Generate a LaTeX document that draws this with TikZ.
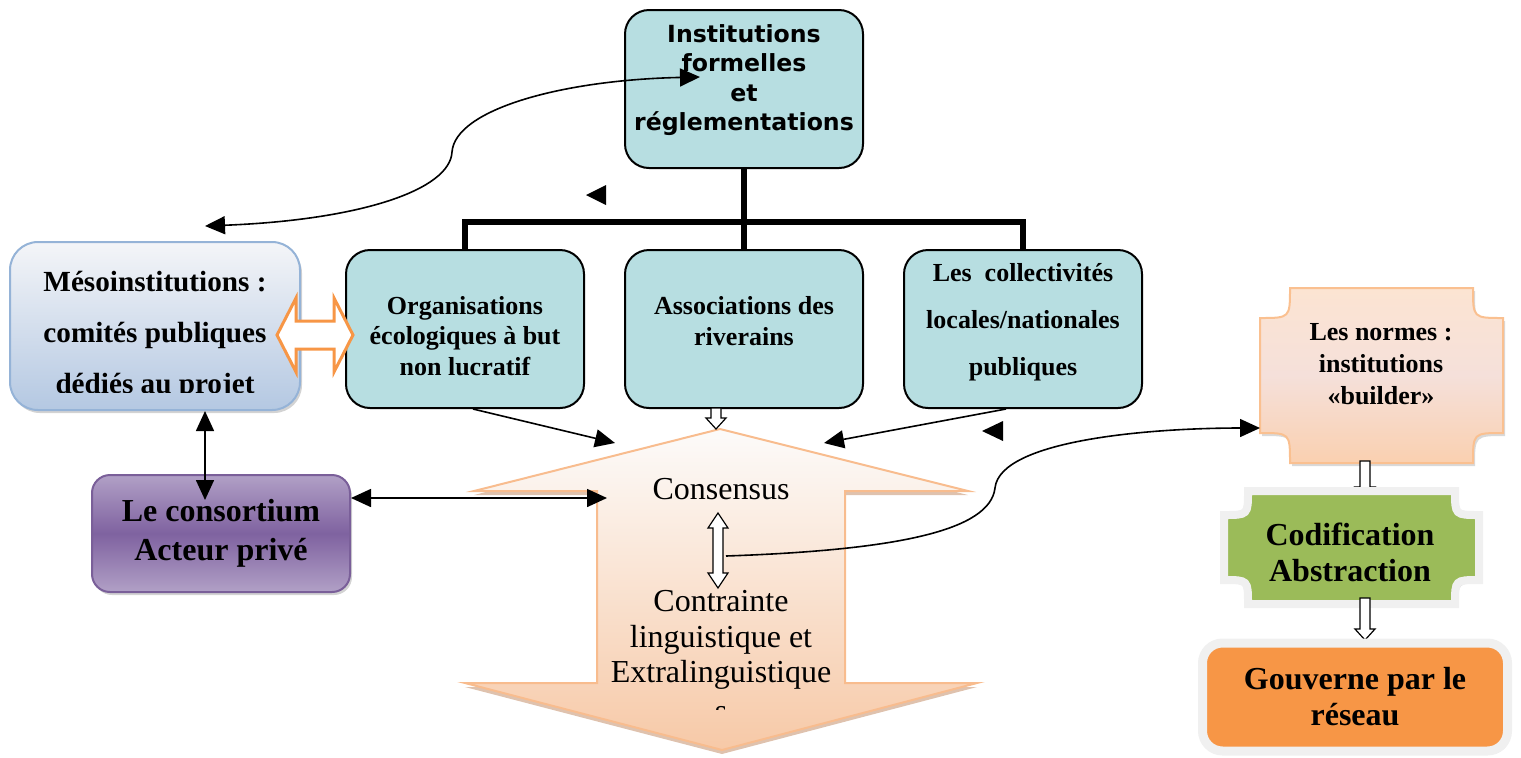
\documentclass[tikz,border=0pt]{standalone}
\usepackage{fontspec}
\setmainfont{Liberation Serif}
\newfontfamily\verdana{DejaVu Sans}
\usetikzlibrary{arrows.meta,shadows}

\definecolor{tealfill}{HTML}{B7DEE1}
\definecolor{mesotop}{HTML}{F4F5F8}
\definecolor{mesobot}{HTML}{B4C8E2}
\definecolor{mesoline}{HTML}{95B3D7}
\definecolor{conslight}{HTML}{B1A0C6}
\definecolor{consdark}{HTML}{7F62A0}
\definecolor{consline}{HTML}{7A5F99}
\definecolor{normestop}{HTML}{FCE4D2}
\definecolor{normesmid}{HTML}{F5E0DA}
\definecolor{normesbot}{HTML}{FAD0B0}
\definecolor{normesline}{HTML}{FAC090}
\definecolor{codiffill}{HTML}{9BBB59}
\definecolor{rim}{HTML}{F0F0F0}
\definecolor{gouvfill}{HTML}{F79646}
\definecolor{arrowtop}{HTML}{FCFBFA}
\definecolor{arrowbot}{HTML}{F7C9A7}
\definecolor{arrowline}{HTML}{F8BC8E}
\definecolor{arrowshade}{HTML}{C99A78}
\definecolor{orangeline}{HTML}{F79646}

\tikzset{
  tealbox/.style={draw=black, line width=1pt, fill=tealfill, rounded corners=12pt,
    minimum width=119pt, minimum height=79pt, inner sep=0pt},
  boxtext/.style={align=center, font=\bfseries\fontsize{13}{15.25}\selectfont},
  insttext/.style={align=center, font=\verdana\bfseries\fontsize{11.8}{14.75}\selectfont},
  mesobox/.style={draw=mesoline, line width=1pt, rounded corners=14pt,
    top color=mesotop, bottom color=mesobot, minimum width=145pt, minimum height=84pt,
    drop shadow={shadow xshift=1pt, shadow yshift=-1.5pt, opacity=.35}},
  mesotext/.style={align=center, font=\bfseries\fontsize{14.6}{25.5}\selectfont},
  consbox/.style={draw=consline, line width=1pt, rounded corners=9pt,
    top color=conslight, bottom color=conslight, middle color=consdark,
    minimum width=129pt, minimum height=58.5pt, inner sep=0pt, align=center,
    font=\bfseries\fontsize{16}{19.5}\selectfont,
    drop shadow={shadow xshift=1pt, shadow yshift=-1.5pt, opacity=.35}},
  bigarrow/.style={draw=arrowline, line width=1pt, top color=arrowtop, bottom color=arrowbot,
    drop shadow={shadow xshift=0pt, shadow yshift=-2pt, fill=arrowshade, opacity=.6}},
  arrowtext/.style={align=center, font=\fontsize{16}{17.75}\selectfont},
  righttext/.style={align=center, font=\bfseries\fontsize{16}{18}\selectfont},
  gouvbox/.style={draw=rim, line width=4.5pt, fill=gouvfill, rounded corners=10pt,
    minimum width=152.5pt, minimum height=54pt, inner sep=0pt, align=center,
    font=\bfseries\fontsize{16}{18}\selectfont,
    drop shadow={shadow xshift=1.5pt, shadow yshift=-1.5pt, opacity=.3}},
  trunk/.style={line width=3pt},
  link/.style={line width=0.8pt, -{Triangle[length=10pt,width=9pt]}},
  linkboth/.style={line width=0.8pt, {Triangle[length=10pt,width=9pt]}-{Triangle[length=10pt,width=9pt]}},
  hollow/.style={draw=black, line width=0.6pt, fill=white},
}

% plaque with hollowed corners: style, x0, y0, x1, y1, r
\newcommand{\plaque}[6]{\path[#1] ({#2+#6},#3) -- ({#4-#6},#3) .. controls ({#4-#6},{#3+#6}) .. (#4,{#3+#6})
  -- (#4,{#5-#6}) .. controls ({#4-#6},{#5-#6}) .. ({#4-#6},#5) -- ({#2+#6},#5)
  .. controls ({#2+#6},{#5-#6}) .. (#2,{#5-#6}) -- (#2,{#3+#6}) .. controls ({#2+#6},{#3+#6}) .. ({#2+#6},#3) -- cycle;}
% hollow block arrows: x, y start, y tip
\newcommand{\hollowdown}[3]{\filldraw[hollow] ({#1-5},#2) -- ({#1+5},#2) -- ({#1+5},{#3-11}) -- ({#1+10},{#3-11})
  -- (#1,#3) -- ({#1-10},{#3-11}) -- ({#1-5},{#3-11}) -- cycle;}
\newcommand{\hollowboth}[3]{\filldraw[hollow] (#1,#2) -- ({#1+10},{#2+15}) -- ({#1+5},{#2+15}) -- ({#1+5},{#3-15})
  -- ({#1+10},{#3-15}) -- (#1,#3) -- ({#1-10},{#3-15}) -- ({#1-5},{#3-15}) -- ({#1-5},{#2+15})
  -- ({#1-10},{#2+15}) -- cycle;}

\begin{document}
\begin{tikzpicture}[x=0.5pt,y=-0.5pt]
  \useasboundingbox (0,0) rectangle (1521,757);
  \def\ybar{222}
  %
  \node[tealbox] (inst) at (744,89) {};
  \node[insttext] (insttext) at (744,80) {Institutions\\formelles\\et\\réglementations};
  \node[tealbox] (orga) at (465,329) {};
  \node[boxtext] (orgatext) at (465,336) {Organisations\\écologiques à but\\non lucratif};
  \node[tealbox] (asso) at (744,329) {};
  \node[boxtext] (assotext) at (744,321) {Associations des\\riverains};
  \node[tealbox] (coll) at (1023,329) {};
  \node[boxtext,font=\bfseries\fontsize{13}{23.5}\selectfont] (colltext) at (1023,322)
    {Les~ collectivités\\locales/nationales\\publiques};
  \draw[trunk] (inst.south) -- (asso.north);
  \draw[trunk] (orga.north) -- (orga.north |- 0,\ybar) -- (coll.north |- 0,\ybar) -- (coll.north);
  %
  \node[mesobox] (meso) at (155,326) {};
  \begin{scope}
    \clip (0,0) rectangle (1521,392);
    \node[mesotext] (mesotext) at (155,335) {Mésoinstitutions :\\comités publiques\\dédiés au projet};
  \end{scope}
  \node[consbox] (cons) at (221,533.5) {Le consortium\\Acteur privé};
  \filldraw[draw=orangeline, line width=1.5pt, fill=white] (277,335) -- (296,298) -- (296,321) -- (334,321)
    -- (334,298) -- (353,335) -- (334,372) -- (334,349) -- (296,349) -- (296,372) -- cycle;
  %
  \path[bigarrow] (720,429) -- (968,491) -- (845,491) -- (845,683) -- (977,683) -- (722,750)
    -- (465,683) -- (597,683) -- (597,491) -- (474,491) -- cycle;
  \node[arrowtext] (consensus) at (721,489) {Consensus};
  \node[arrowtext] (contrainte) at (721,640) {Contrainte\\linguistique et\\Extralinguistique};
  \begin{scope}
    \clip (600,690) rectangle (840,709);
    \node[arrowtext] (contraintes) at (721,714) {s};
  \end{scope}
  \hollowdown{716}{408}{429}
  \hollowboth{718}{513}{588}
  %
  \plaque{draw=normesline, line width=1pt, top color=normestop, bottom color=normesbot, middle color=normesmid,
    drop shadow={shadow xshift=1pt, shadow yshift=-1.5pt, opacity=.3}}{1260}{288}{1503}{463}{30}
  \node[righttext,font=\bfseries\fontsize{13}{16}\selectfont] (normes) at (1381,364) {Les normes :\\institutions\\«builder»};
  \hollowdown{1365}{461}{498}
  \plaque{draw=rim, line width=4pt, fill=codiffill,
    drop shadow={shadow xshift=1.5pt, shadow yshift=-1.5pt, opacity=.35}}{1224}{491}{1479}{604}{24}
  \node[righttext] (codif) at (1350,552) {Codification\\Abstraction};
  \hollowdown{1365}{598}{640}
  \node[gouvbox] (gouv) at (1355,697) {Gouverne par le\\réseau};
  %
  \coordinate (mesoabove) at (205,226);
  \coordinate (insttip) at (700,77);
  \coordinate (consleft) at (615,443);
  \coordinate (consright) at (824,443);
  \coordinate (consin) at (205,500);
  \coordinate (arrowmid) at (607,498);
  \coordinate (arrowsrc) at (726,556);
  \coordinate (normesin) at (1260,428);
  \draw[linkboth] (mesoabove) .. controls (360,220) and (450,190) .. (452,152)
    .. controls (455,110) and (560,80) .. (insttip);
  \draw[link] ([xshift=4pt]orga.south) -- (consleft);
  \draw[link] ([xshift=-8.5pt]coll.south) -- (consright);
  \draw[linkboth] ([xshift=25pt]meso.south) -- (consin);
  \draw[linkboth] (cons.east |- arrowmid) -- (arrowmid);
  \draw[link] (arrowsrc) .. controls (900,550) and (990,530) .. (995,488)
    .. controls (1000,440) and (1150,428) .. (normesin);
  \fill (586,195) -- (606,185) -- (606,205) -- cycle;
  \fill (982,431) -- (1003,421) -- (1003,441) -- cycle;
\end{tikzpicture}
\end{document}
